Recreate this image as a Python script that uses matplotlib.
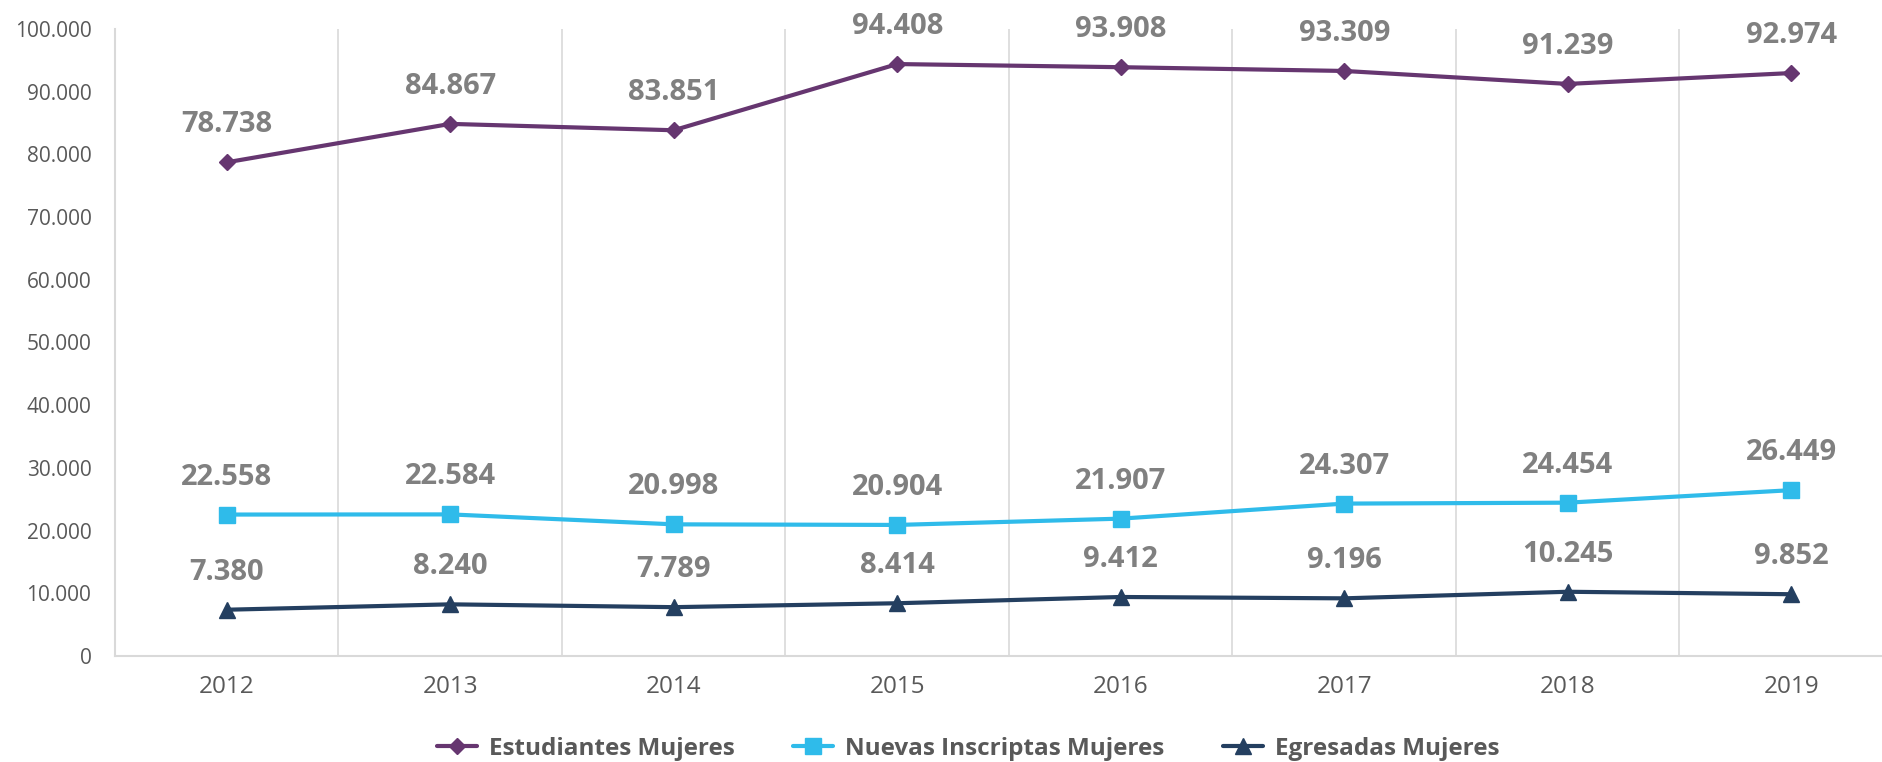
import numpy as np
import matplotlib
matplotlib.use("Agg")
import matplotlib.pyplot as plt
from matplotlib.ticker import FuncFormatter, MultipleLocator

# data
years = ["2012", "2013", "2014", "2015", "2016", "2017", "2018", "2019"]
estudiantes = [78738, 84867, 83851, 94408, 93908, 93309, 91239, 92974]
nuevas = [22558, 22584, 20998, 20904, 21907, 24307, 24454, 26449]
egresadas = [7380, 8240, 7789, 8414, 9412, 9196, 10245, 9852]

series_names = ["Estudiantes Mujeres", "Nuevas Inscriptas Mujeres", "Egresadas Mujeres"]
colors = ["#663670", "#2FBBEA", "#243F60"]
markers = ["D", "s", "^"]
msizes = [8, 11.5, 12]

plt.rcParams['font.family'] = ['Open Sans', 'DejaVu Sans']

def thousands(v):
    # 100000 -> 100.000
    return "{:,.0f}".format(v).replace(",", ".")

W, H = 1883, 762
fig = plt.figure(figsize=(W / 100, H / 100), dpi=100)
# plot area runs past the right edge of the picture, like the reference
left, right, top, bottom = 115, 1903, 29, 656
ax = fig.add_axes([left / W, 1 - bottom / H, (right - left) / W, (bottom - top) / H])

x = np.arange(len(years))
for vals, name, c, m, ms in zip([estudiantes, nuevas, egresadas], series_names, colors, markers, msizes):
    ax.plot(x, vals, color=c, lw=3, marker=m, ms=ms, label=name, solid_capstyle='round', zorder=3)
    for xi, v in zip(x, vals):
        ax.annotate(thousands(v), (xi, v), xytext=(0, 27), textcoords='offset points',
                    ha='center', va='center', fontsize=21, fontweight='bold', color='#808080')

ax.set_xlim(-0.5, len(years) - 0.5)
ax.set_ylim(0, 100000)
ax.yaxis.set_major_locator(MultipleLocator(10000))
ax.yaxis.set_major_formatter(FuncFormatter(lambda v, p: thousands(v)))
ax.set_xticks(x)
ax.set_xticklabels(years)
ax.set_xticks(np.arange(0.5, len(years) - 0.5, 1), minor=True)
ax.grid(which='minor', axis='x', color='#D9D9D9', lw=1.2)
ax.tick_params(which='both', length=0)
ax.tick_params(axis='x', pad=14, labelsize=17.5, colors='#595959')
ax.tick_params(axis='y', pad=17, labelsize=15, colors='#595959')

for s in ['top', 'right']:
    ax.spines[s].set_visible(False)
for s in ['left', 'bottom']:
    ax.spines[s].set_color('#D9D9D9')
    ax.spines[s].set_linewidth(1.5)

leg = fig.legend(loc='center', bbox_to_anchor=(968 / W, 1 - 749 / H), ncol=3, frameon=False,
                 handlelength=1.65, handletextpad=0.5, columnspacing=2.4,
                 prop={'weight': 'bold', 'size': 17.5})
for t in leg.get_texts():
    t.set_color('#595959')

fig.savefig("out.png", dpi=100)
